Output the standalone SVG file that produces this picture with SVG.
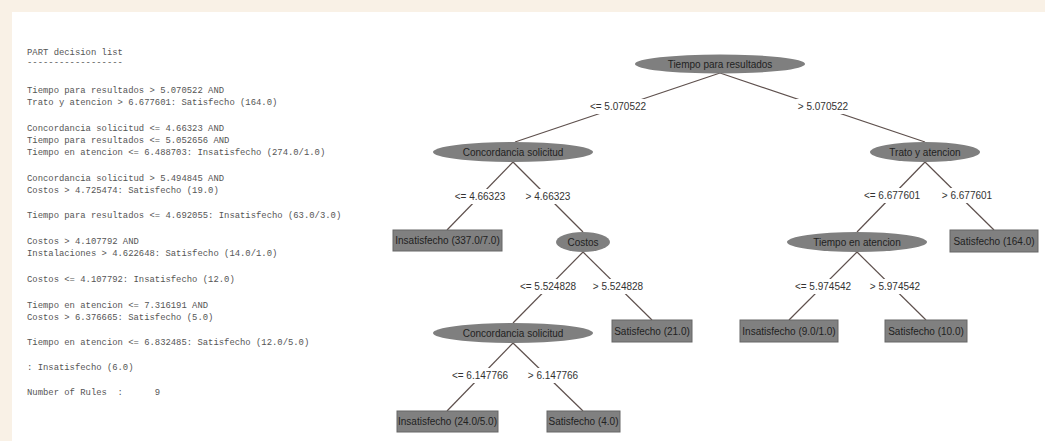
<svg xmlns="http://www.w3.org/2000/svg" width="1045" height="441" viewBox="0 0 1045 441">
<style>
.mono{font-family:"Liberation Mono","Courier New",monospace;font-size:8.9px;fill:#555}
.nt{font-family:"Liberation Sans",Arial,sans-serif;font-size:10px;fill:#222;text-anchor:middle;dominant-baseline:central}
.lb{font-family:"Liberation Sans",Arial,sans-serif;font-size:10px;fill:#333;text-anchor:middle;dominant-baseline:central}
.ell{fill:#7f7f7f}
.box{fill:#808080;stroke:#666;stroke-width:1}
.edge{stroke:#5e504d;stroke-width:1.2;fill:none}
.lbg{fill:#fff}
</style>
<rect x="0" y="0" width="1045" height="441" fill="#f9f1e6"/>
<rect x="12" y="12" width="1033" height="429" fill="#fff"/>
<g id="rules" class="mono">
<text x="27" y="55">PART decision list</text>
<text x="27" y="65">------------------</text>
<text x="27" y="93">Tiempo para resultados &gt; 5.070522 AND</text>
<text x="27" y="105">Trato y atencion &gt; 6.677601: Satisfecho (164.0)</text>
<text x="27" y="131">Concordancia solicitud &lt;= 4.66323 AND</text>
<text x="27" y="143">Tiempo para resultados &lt;= 5.052656 AND</text>
<text x="27" y="155">Tiempo en atencion &lt;= 6.488703: Insatisfecho (274.0/1.0)</text>
<text x="27" y="181">Concordancia solicitud &gt; 5.494845 AND</text>
<text x="27" y="193">Costos &gt; 4.725474: Satisfecho (19.0)</text>
<text x="27" y="218">Tiempo para resultados &lt;= 4.692055: Insatisfecho (63.0/3.0)</text>
<text x="27" y="244">Costos &gt; 4.107792 AND</text>
<text x="27" y="256">Instalaciones &gt; 4.622648: Satisfecho (14.0/1.0)</text>
<text x="27" y="282">Costos &lt;= 4.107792: Insatisfecho (12.0)</text>
<text x="27" y="308">Tiempo en atencion &lt;= 7.316191 AND</text>
<text x="27" y="320">Costos &gt; 6.376665: Satisfecho (5.0)</text>
<text x="27" y="345">Tiempo en atencion &lt;= 6.832485: Satisfecho (12.0/5.0)</text>
<text x="27" y="370">: Insatisfecho (6.0)</text>
<text x="27" y="395" xml:space="preserve">Number of Rules  :      9</text>
</g>
<g id="connectors">
<line class="edge" x1="720" y1="73" x2="515" y2="142"/>
<line class="edge" x1="720" y1="73" x2="925" y2="142"/>
<line class="edge" x1="513" y1="162" x2="447" y2="230"/>
<line class="edge" x1="513" y1="162" x2="583" y2="232"/>
<line class="edge" x1="583" y1="252" x2="513" y2="323"/>
<line class="edge" x1="583" y1="252" x2="652" y2="320"/>
<line class="edge" x1="513" y1="343" x2="447" y2="411"/>
<line class="edge" x1="513" y1="343" x2="583" y2="411"/>
<line class="edge" x1="925" y1="162" x2="857" y2="232"/>
<line class="edge" x1="925" y1="162" x2="994" y2="230"/>
<line class="edge" x1="857" y1="252" x2="789" y2="320"/>
<line class="edge" x1="857" y1="252" x2="926" y2="320"/>
<rect class="lbg" x="588" y="99" width="60" height="15"/><text class="lb" x="618" y="106">&lt;= 5.070522</text>
<rect class="lbg" x="796" y="99" width="54" height="15"/><text class="lb" x="823" y="106">&gt; 5.070522</text>
<rect class="lbg" x="454" y="189" width="53" height="15"/><text class="lb" x="480" y="196">&lt;= 4.66323</text>
<rect class="lbg" x="524" y="189" width="48" height="15"/><text class="lb" x="548" y="196">&gt; 4.66323</text>
<rect class="lbg" x="518" y="279" width="60" height="15"/><text class="lb" x="548" y="286">&lt;= 5.524828</text>
<rect class="lbg" x="591" y="279" width="54" height="15"/><text class="lb" x="618" y="286">&gt; 5.524828</text>
<rect class="lbg" x="450" y="368" width="60" height="15"/><text class="lb" x="480" y="375">&lt;= 6.147766</text>
<rect class="lbg" x="526" y="368" width="54" height="15"/><text class="lb" x="553" y="375">&gt; 6.147766</text>
<rect class="lbg" x="862" y="188" width="60" height="15"/><text class="lb" x="892" y="195">&lt;= 6.677601</text>
<rect class="lbg" x="940" y="188" width="54" height="15"/><text class="lb" x="967" y="195">&gt; 6.677601</text>
<rect class="lbg" x="793" y="279" width="60" height="15"/><text class="lb" x="823" y="286">&lt;= 5.974542</text>
<rect class="lbg" x="868" y="279" width="54" height="15"/><text class="lb" x="895" y="286">&gt; 5.974542</text>
</g>
<g id="n-root"><ellipse class="ell" cx="720" cy="64" rx="85" ry="9.5"/><text class="nt" x="720" y="64">Tiempo para resultados</text></g>
<g id="n-conc1"><ellipse class="ell" cx="513" cy="152" rx="80" ry="10"/><text class="nt" x="513" y="152">Concordancia solicitud</text></g>
<g id="n-trato"><ellipse class="ell" cx="925" cy="152" rx="55" ry="10"/><text class="nt" x="925" y="152">Trato y atencion</text></g>
<g id="n-leaf1"><rect class="box" x="393" y="230" width="109" height="21"/><text class="nt" x="447.5" y="240.5">Insatisfecho (337.0/7.0)</text></g>
<g id="n-costos"><ellipse class="ell" cx="583" cy="242" rx="27" ry="10"/><text class="nt" x="583" y="242">Costos</text></g>
<g id="n-tiempoat"><ellipse class="ell" cx="857" cy="242" rx="70" ry="10"/><text class="nt" x="857" y="242">Tiempo en atencion</text></g>
<g id="n-leaf164"><rect class="box" x="950" y="230" width="88" height="22"/><text class="nt" x="994" y="241">Satisfecho (164.0)</text></g>
<g id="n-conc2"><ellipse class="ell" cx="513" cy="333" rx="80" ry="10"/><text class="nt" x="513" y="333">Concordancia solicitud</text></g>
<g id="n-leaf21"><rect class="box" x="612" y="320" width="80" height="22"/><text class="nt" x="652" y="331">Satisfecho (21.0)</text></g>
<g id="n-leaf9"><rect class="box" x="740" y="320" width="98" height="22"/><text class="nt" x="789" y="331">Insatisfecho (9.0/1.0)</text></g>
<g id="n-leaf10"><rect class="box" x="885" y="320" width="82" height="22"/><text class="nt" x="926" y="331">Satisfecho (10.0)</text></g>
<g id="n-leaf24"><rect class="box" x="397" y="411" width="101" height="21"/><text class="nt" x="447.5" y="421.5">Insatisfecho (24.0/5.0)</text></g>
<g id="n-leaf4"><rect class="box" x="547" y="411" width="73" height="21"/><text class="nt" x="583.5" y="421.5">Satisfecho (4.0)</text></g>
</svg>
